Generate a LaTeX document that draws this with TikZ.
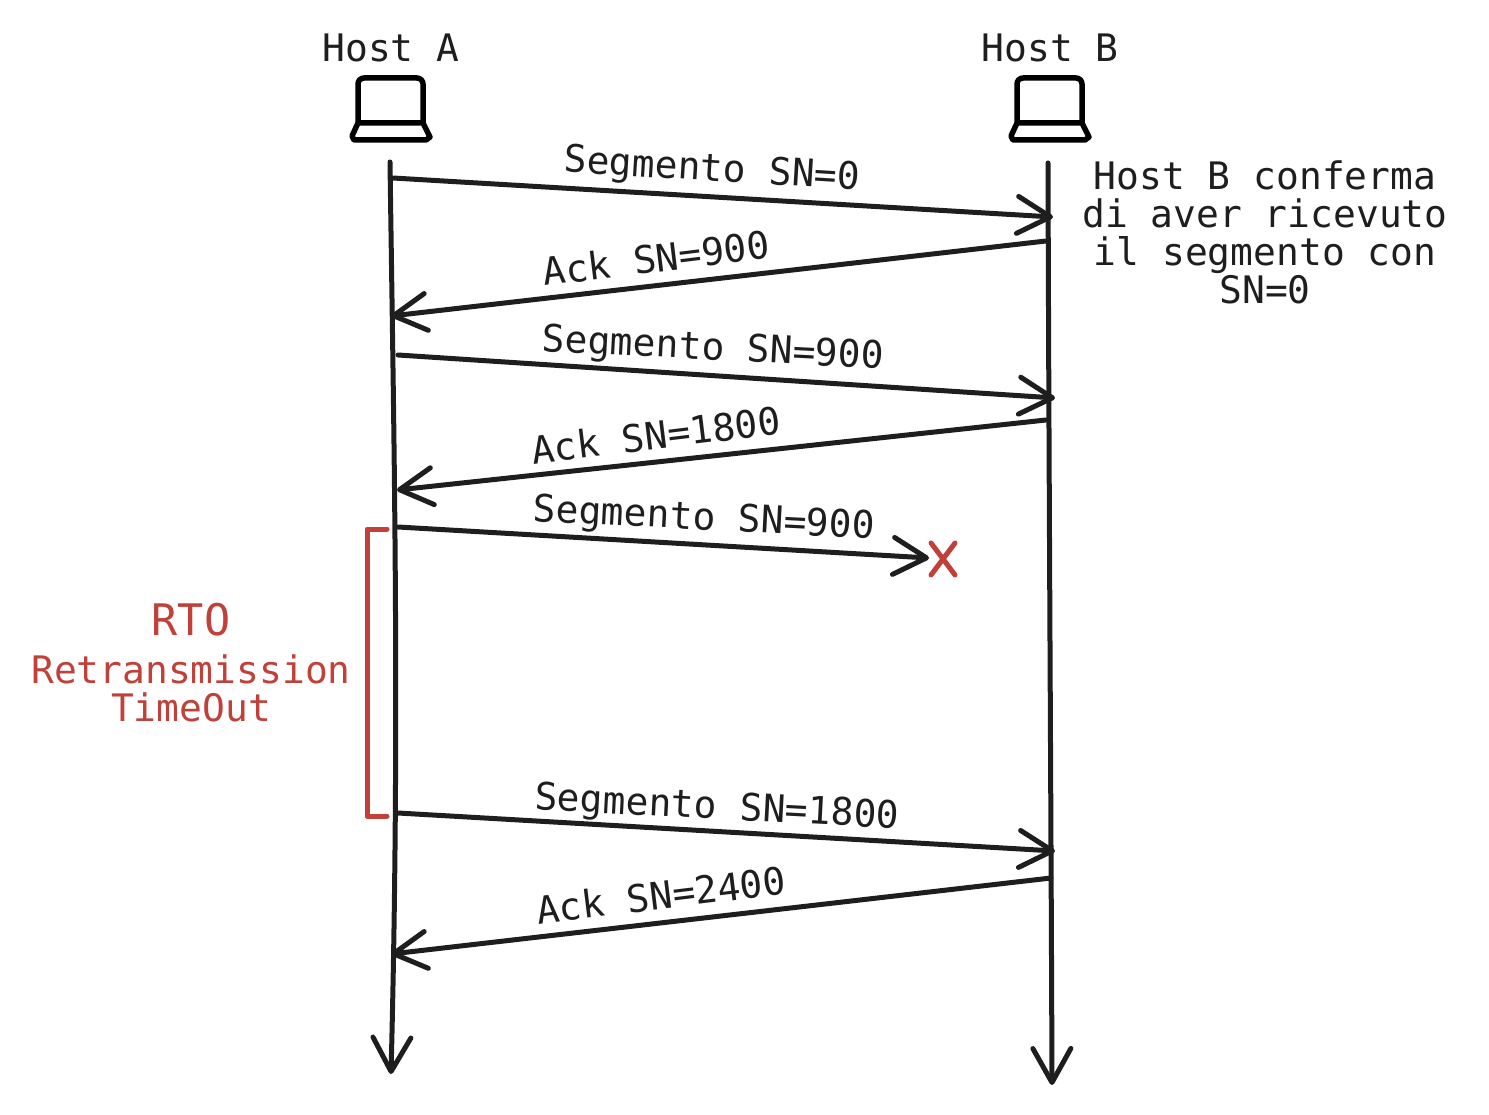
\documentclass[tikz,border=0pt]{standalone}
\usepackage{fontspec}
\setmainfont{DejaVu Sans Mono}
\usetikzlibrary{arrows.meta}
\definecolor{ink}{HTML}{1E1E1E}
\definecolor{redink}{HTML}{C0403A}
\tikzset{
  msg/.style={draw=ink,line width=5pt,line cap=round,line join=round,
    -{Straight Barb[length=33pt,width=37pt,line width=5pt,round]}},
  life/.style={msg,{-{Straight Barb[length=34pt,width=38pt,line width=5pt,round]}}},
  lab/.style={inner sep=0pt,text=ink,font=\fontsize{37.9}{38}\selectfont},
  redlab/.style={lab,text=redink},
  redline/.style={draw=redink,line width=5pt,line cap=round,line join=round},
  laptop/.pic={
    \draw[line width=5.5pt,line join=round,line cap=round,black]
      (-32,-45) -- (-32,-7) (33,-45) -- (33,-7)
      (-26,-51) -- (27,-51) to[out=0,in=90] (33,-45)
      (-26,-51) to[out=180,in=90] (-32,-45)
      (-32,-6) -- (33,-6) -- (40,8) -- (36,11) -- (-36,11) -- (-38,7) -- cycle;
  }
}
\begin{document}
\begin{tikzpicture}[x=1pt,y=-1pt]
\useasboundingbox (0,0) rectangle (1489,1115);
% titles and hosts
\node[lab] (hosta) at (391,48) {Host A};
\node[lab] (hostb) at (1050,48) {Host B};
\pic at (390,129) {laptop};
\pic at (1049,129) {laptop};
% lifelines
\coordinate (atop) at (390,162);
\coordinate (abot) at (391,1074);
\coordinate (btop) at (1048,163);
\coordinate (bbot) at (1052,1085);
\draw[life] (atop) .. controls (394,450) and (400,720) .. (abot);
\draw[life] (btop) .. controls (1049,500) and (1051,800) .. (bbot);
% message ends
\coordinate (a1) at (393,178);   \coordinate (b1) at (1053,217);
\coordinate (b2) at (1046,241);  \coordinate (a2) at (391,316);
\coordinate (a3) at (398,355);   \coordinate (b3) at (1055,398);
\coordinate (b4) at (1046,420);  \coordinate (a4) at (397,490);
\coordinate (a5) at (398,527);   \coordinate (l5) at (929,558);
\coordinate (a6) at (398,813);   \coordinate (b6) at (1055,851);
\coordinate (b7) at (1051,878);  \coordinate (a7) at (391,954);
\draw[msg] (a1) -- (b1);
\draw[msg] (b2) -- (a2);
\draw[msg] (a3) -- (b3);
\draw[msg] (b4) -- (a4);
\draw[msg] (a5) -- (l5);
\draw[msg] (a6) -- (b6);
\draw[msg] (b7) -- (a7);
% message labels
\node[lab,rotate=-3.5] (m1) at (712,171) {Segmento SN=0};
\node[lab,rotate=7] (m2) at (656,258) {Ack SN=900};
\node[lab,rotate=-3] (m3) at (713,350) {Segmento SN=900};
\node[lab,rotate=7] (m4) at (656,435) {Ack SN=1800};
\node[lab,rotate=-3] (m5) at (704,520) {Segmento SN=900};
\node[lab,rotate=-3] (m6) at (717,809) {Segmento SN=1800};
\node[lab,rotate=7] (m7) at (661,895) {Ack SN=2400};
% note
\node[lab,align=center] (note) at (1265,232) {Host B conferma\\di aver ricevuto\\il segmento con\\SN=0};
% lost segment
\coordinate (x1) at (931,543); \coordinate (x2) at (955,575);
\coordinate (x3) at (955,543); \coordinate (x4) at (931,575);
\draw[redline] (x1) -- (x2) (x3) -- (x4);
% RTO
\coordinate (r1) at (387,529); \coordinate (r2) at (367,529);
\coordinate (r3) at (367,816); \coordinate (r4) at (387,816);
\draw[redline] (r1) -- (r2) -- (r3) -- (r4);
\node[redlab,font=\fontsize{43.5}{44}\selectfont] (rto) at (191,620) {RTO};
\node[redlab,align=center] (rtx) at (191,688) {Retransmission\\TimeOut};
\end{tikzpicture}
\end{document}
